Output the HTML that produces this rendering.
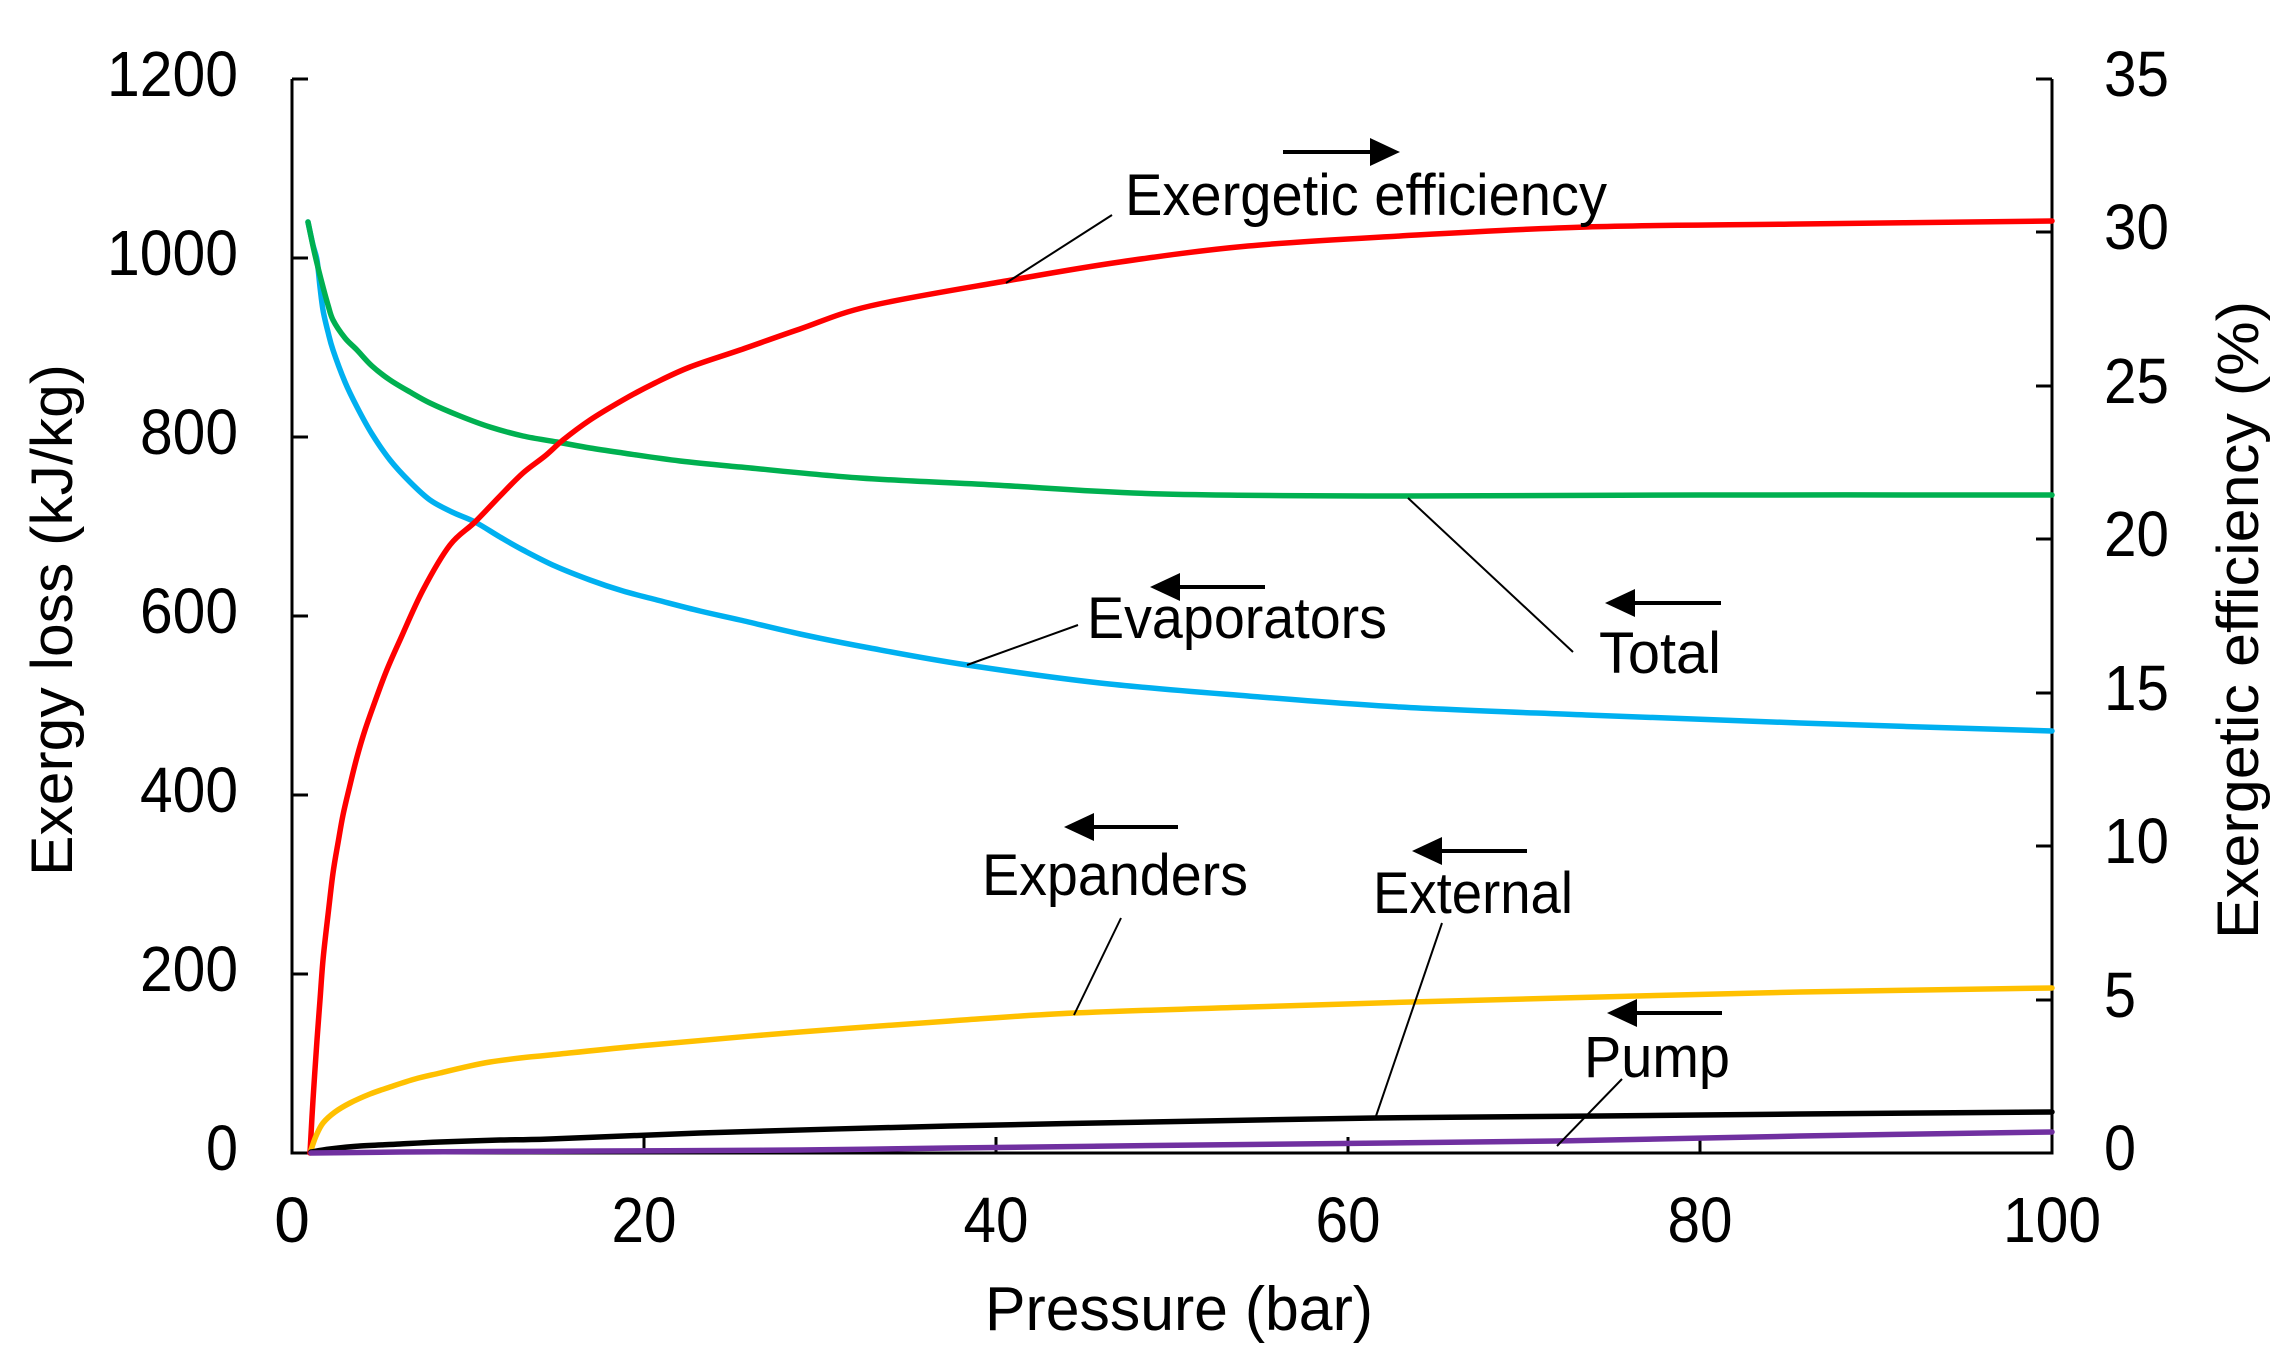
<!DOCTYPE html>
<html><head><meta charset="utf-8"><style>
html,body{margin:0;padding:0;background:#fff;}
svg{display:block;}
text{font-family:"Liberation Sans",Arial,sans-serif;fill:#000;}
</style></head><body>
<svg width="2288" height="1368" viewBox="0 0 2288 1368" xmlns="http://www.w3.org/2000/svg">
<rect width="2288" height="1368" fill="#fff"/>
<g stroke="#000" stroke-width="3" fill="none">
<polyline points="292,79 292,1153 2052,1153 2052,79"/>
<line x1="292" y1="79" x2="308" y2="79"/>
<line x1="292" y1="258" x2="308" y2="258"/>
<line x1="292" y1="437" x2="308" y2="437"/>
<line x1="292" y1="616" x2="308" y2="616"/>
<line x1="292" y1="795" x2="308" y2="795"/>
<line x1="292" y1="974" x2="308" y2="974"/>
<line x1="2036" y1="79" x2="2052" y2="79"/>
<line x1="2036" y1="232" x2="2052" y2="232"/>
<line x1="2036" y1="386" x2="2052" y2="386"/>
<line x1="2036" y1="539" x2="2052" y2="539"/>
<line x1="2036" y1="693" x2="2052" y2="693"/>
<line x1="2036" y1="846" x2="2052" y2="846"/>
<line x1="2036" y1="1000" x2="2052" y2="1000"/>
<line x1="644" y1="1153" x2="644" y2="1137"/>
<line x1="996" y1="1153" x2="996" y2="1137"/>
<line x1="1348" y1="1153" x2="1348" y2="1137"/>
<line x1="1700" y1="1153" x2="1700" y2="1137"/>
</g>
<g font-size="64">
<text x="238" y="96" text-anchor="end" textLength="131" lengthAdjust="spacingAndGlyphs">1200</text>
<text x="238" y="275" text-anchor="end" textLength="131" lengthAdjust="spacingAndGlyphs">1000</text>
<text x="238" y="454" text-anchor="end" textLength="98" lengthAdjust="spacingAndGlyphs">800</text>
<text x="238" y="633" text-anchor="end" textLength="98" lengthAdjust="spacingAndGlyphs">600</text>
<text x="238" y="812" text-anchor="end" textLength="98" lengthAdjust="spacingAndGlyphs">400</text>
<text x="238" y="991" text-anchor="end" textLength="98" lengthAdjust="spacingAndGlyphs">200</text>
<text x="238" y="1170" text-anchor="end" textLength="32" lengthAdjust="spacingAndGlyphs">0</text>
<text x="2104" y="96" textLength="65" lengthAdjust="spacingAndGlyphs">35</text>
<text x="2104" y="249" textLength="65" lengthAdjust="spacingAndGlyphs">30</text>
<text x="2104" y="403" textLength="65" lengthAdjust="spacingAndGlyphs">25</text>
<text x="2104" y="556" textLength="65" lengthAdjust="spacingAndGlyphs">20</text>
<text x="2104" y="710" textLength="65" lengthAdjust="spacingAndGlyphs">15</text>
<text x="2104" y="863" textLength="65" lengthAdjust="spacingAndGlyphs">10</text>
<text x="2104" y="1017" textLength="32" lengthAdjust="spacingAndGlyphs">5</text>
<text x="2104" y="1170" textLength="32" lengthAdjust="spacingAndGlyphs">0</text>
<text x="292" y="1242" text-anchor="middle">0</text>
<text x="644" y="1242" text-anchor="middle" textLength="65" lengthAdjust="spacingAndGlyphs">20</text>
<text x="996" y="1242" text-anchor="middle" textLength="65" lengthAdjust="spacingAndGlyphs">40</text>
<text x="1348" y="1242" text-anchor="middle" textLength="65" lengthAdjust="spacingAndGlyphs">60</text>
<text x="1700" y="1242" text-anchor="middle" textLength="65" lengthAdjust="spacingAndGlyphs">80</text>
<text x="2052" y="1242" text-anchor="middle" textLength="98" lengthAdjust="spacingAndGlyphs">100</text>
</g>
<text x="985" y="1330" font-size="62" textLength="388" lengthAdjust="spacingAndGlyphs">Pressure (bar)</text>
<text transform="translate(72,876) rotate(-90)" font-size="58" textLength="512" lengthAdjust="spacingAndGlyphs">Exergy loss (kJ/kg)</text>
<text transform="translate(2258,939) rotate(-90)" font-size="58" textLength="638" lengthAdjust="spacingAndGlyphs">Exergetic efficiency (%)</text>
<g id="curves" fill="none" stroke-width="5.5" stroke-linejoin="round" stroke-linecap="round">
<polyline stroke="#00b0f0" points="308,222 313,245 317,260 320,287 323,310 328,332 333,350 345,382 357,407 372,434 390,460 410,482 430,500 452,512 475,522 500,537 523,550 555,566 590,580 623,591 657,600 700,611 740,620 800,634 870,648 967,665 1100,683 1248,696 1400,707 1586,715 1800,723 2052,731"/>
<polyline stroke="#00b050" points="308,222 315,255 323,287 328,305 333,320 345,338 357,350 372,366 390,380 410,392 430,403 460,416 490,427 523,436 557,442 590,448 623,453 680,461 740,467 860,478 994,485 1163,494 1408,496 1700,495 2052,495"/>
<polyline stroke="#ff0000" points="310,1153 313,1100 317,1040 320,1000 323,960 328,915 333,873 338,843 343,815 350,785 357,757 365,730 373,707 386,672 400,640 423,590 450,545 475,522 500,496 523,473 545,456 563,440 590,420 623,400 655,383 690,367 740,350 800,329 870,306 1006,281 1120,262 1248,246 1400,236 1586,227 1800,224 2052,221"/>
<polyline stroke="#ffc000" points="311,1150 316,1136 323,1123 335,1112 350,1103 370,1094 390,1087 415,1079 440,1073 465,1067 490,1062 520,1058 550,1055 650,1045 800,1032 950,1021 1074,1013 1250,1007 1411,1002 1600,997 1800,992 2052,988"/>
<polyline stroke="#000000" points="311,1152 330,1149 360,1146 400,1144 440,1142 500,1140 550,1139 700,1133 950,1126 1150,1122 1375,1118 1600,1116 1800,1114 2052,1112"/>
<polyline stroke="#7030a0" points="311,1153 400,1152 600,1151 800,1150 950,1148 1200,1145 1557,1141 1800,1136 2052,1132"/>
</g>
<g stroke="#000" stroke-width="2" fill="none">
<line x1="1112" y1="215" x2="1006" y2="283"/>
<line x1="1408" y1="498" x2="1573" y2="652"/>
<line x1="1078" y1="625" x2="967" y2="665"/>
<line x1="1121" y1="918" x2="1074" y2="1015"/>
<line x1="1442" y1="923" x2="1375" y2="1119"/>
<line x1="1622" y1="1079" x2="1557" y2="1146"/>
</g>
<g stroke="#000" stroke-width="4">
<line x1="1283" y1="152" x2="1375" y2="152"/>
<line x1="1165" y1="587" x2="1265" y2="587"/>
<line x1="1620" y1="603" x2="1721" y2="603"/>
<line x1="1078" y1="827" x2="1178" y2="827"/>
<line x1="1427" y1="851" x2="1527" y2="851"/>
<line x1="1622" y1="1013" x2="1722" y2="1013"/>
</g>
<g fill="#000">
<polygon points="1400,152 1370,138 1370,166"/>
<polygon points="1150,587 1180,573 1180,601"/>
<polygon points="1605,603 1635,589 1635,617"/>
<polygon points="1064,827 1094,813 1094,841"/>
<polygon points="1412,851 1442,837 1442,865"/>
<polygon points="1607,1013 1637,999 1637,1027"/>
</g>
<g font-size="58">
<text x="1125" y="215" textLength="482" lengthAdjust="spacingAndGlyphs">Exergetic efficiency</text>
<text x="1087" y="638" textLength="300" lengthAdjust="spacingAndGlyphs">Evaporators</text>
<text x="1599" y="673" textLength="122" lengthAdjust="spacingAndGlyphs">Total</text>
<text x="982" y="895" textLength="266" lengthAdjust="spacingAndGlyphs">Expanders</text>
<text x="1373" y="913" textLength="200" lengthAdjust="spacingAndGlyphs">External</text>
<text x="1584" y="1077" textLength="146" lengthAdjust="spacingAndGlyphs">Pump</text>
</g>
</svg>
<script>
(function(){
var NS="http://www.w3.org/2000/svg";
var pls=document.querySelectorAll("#curves polyline");
for(var i=0;i<pls.length;i++){
 var pl=pls[i];
 var nums=pl.getAttribute("points").trim().split(/[\s,]+/).map(Number);
 var p=[];for(var k=0;k<nums.length;k+=2)p.push([nums[k],nums[k+1]]);
 var d="M"+p[0][0]+","+p[0][1];
 for(var j=0;j<p.length-1;j++){
  var p0=p[j>0?j-1:j],p1=p[j],p2=p[j+1],p3=p[j+2<p.length?j+2:j+1];
  var c1x=p1[0]+(p2[0]-p0[0])/6,c1y=p1[1]+(p2[1]-p0[1])/6;
  var c2x=p2[0]-(p3[0]-p1[0])/6,c2y=p2[1]-(p3[1]-p1[1])/6;
  d+=" C"+c1x.toFixed(1)+","+c1y.toFixed(1)+" "+c2x.toFixed(1)+","+c2y.toFixed(1)+" "+p2[0]+","+p2[1];
 }
 var path=document.createElementNS(NS,"path");
 path.setAttribute("d",d);
 path.setAttribute("stroke",pl.getAttribute("stroke"));
 pl.parentNode.replaceChild(path,pl);
}
})();
</script>
</body></html>
